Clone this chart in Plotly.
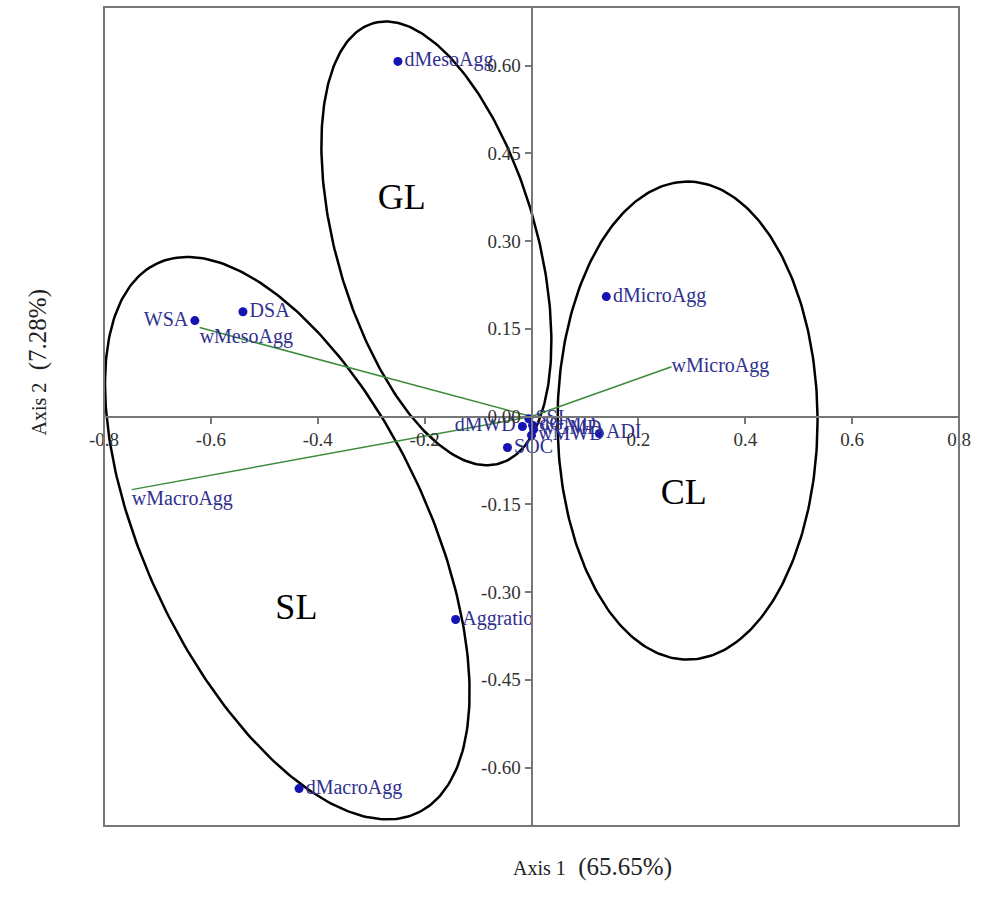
import numpy as np
import plotly.graph_objects as go

# ---- data ----
point_labels = ["dMesoAgg", "dMicroAgg", "WSA", "DSA", "Aggratio", "dMacroAgg",
                "ADI", "SOC", "dMWD", "SSI", "dGMD", "wGMD", "wMWD"]
point_x = [-0.250, 0.140, -0.630, -0.540, -0.142, -0.435,
           0.127, -0.045, -0.017, -0.005, 0.002, 0.004, 0.000]
point_y = [0.607, 0.205, 0.164, 0.179, -0.347, -0.636,
           -0.029, -0.053, -0.017, -0.004, -0.015, -0.022, -0.032]
point_pos = ["middle right", "middle right", "middle left", "middle right", "middle right",
             "middle right", "middle right", "middle right", "middle left", "middle right",
             "middle right", "middle right", "middle right"]

vec_labels = ["wMesoAgg", "wMicroAgg", "wMacroAgg"]
vec_x = [-0.621, 0.262, -0.748]
vec_y = [0.152, 0.085, -0.125]
vec_pos = ["bottom right", "middle right", "bottom right"]

group_names = ["GL", "SL", "CL"]
group_cx = [-0.178, -0.457, 0.292]
group_cy = [0.296, -0.208, -0.007]
group_a = [229, 304, 239]      # semi-major, in screen pixels
group_b = [100, 141, 130]      # semi-minor, in screen pixels
group_angle = [106, 115.4, 90]  # degrees
group_label_x = [-0.243, -0.440, 0.285]
group_label_y = [0.370, -0.330, -0.135]

x_ticks = [-0.8, -0.6, -0.4, -0.2, 0.2, 0.4, 0.6, 0.8]
y_ticks = [-0.60, -0.45, -0.30, -0.15, 0.00, 0.15, 0.30, 0.45, 0.60]
x_range = [-0.8, 0.8]
y_range = [-0.7, 0.7]

W, H = 984, 899
ML, MR, MT, MB = 104, 25, 7, 73
px_per_x = (W - ML - MR) / (x_range[1] - x_range[0])
px_per_y = (H - MT - MB) / (y_range[1] - y_range[0])

SERIF = "Liberation Serif"
LABEL_COLOR = "#30308f"
fig = go.Figure()

# ellipses
t = np.linspace(0, 2 * np.pi, 300)
for cx, cy, a, b, ang in zip(group_cx, group_cy, group_a, group_b, group_angle):
    th = np.deg2rad(ang)
    dx = a * np.cos(t) * np.cos(th) - b * np.sin(t) * np.sin(th)
    dy = a * np.cos(t) * np.sin(th) + b * np.sin(t) * np.cos(th)
    fig.add_trace(go.Scatter(x=cx + dx / px_per_x, y=cy + dy / px_per_y, mode="lines",
                             line=dict(color="black", width=2.5), hoverinfo="skip",
                             showlegend=False))

# vectors
for vx, vy in zip(vec_x, vec_y):
    fig.add_trace(go.Scatter(x=[0, vx], y=[0, vy], mode="lines",
                             line=dict(color="#3c8c3c", width=1.5), showlegend=False))
fig.add_trace(go.Scatter(x=vec_x, y=vec_y, mode="text", text=vec_labels,
                         textposition=vec_pos,
                         textfont=dict(family=SERIF, size=20, color=LABEL_COLOR),
                         showlegend=False))

# points
fig.add_trace(go.Scatter(x=point_x, y=point_y, mode="markers+text", text=point_labels,
                         textposition=point_pos,
                         marker=dict(color="#1414b4", size=9),
                         textfont=dict(family=SERIF, size=20, color=LABEL_COLOR),
                         showlegend=False))

# group names
fig.add_trace(go.Scatter(x=group_label_x, y=group_label_y, mode="text", text=group_names,
                         textfont=dict(family=SERIF, size=36, color="black"),
                         showlegend=False))

fig.update_layout(
    width=W, height=H,
    margin=dict(l=ML, r=MR, t=MT, b=MB),
    paper_bgcolor="white", plot_bgcolor="white",
    xaxis=dict(range=x_range, anchor="free", position=0.5, showgrid=False, zeroline=False,
               showline=True, linecolor="#777777", linewidth=2,
               ticks="outside", ticklen=6, tickcolor="#777777", tickwidth=2,
               tickvals=x_ticks, ticktext=[f"{v:.1f}" for v in x_ticks],
               tickfont=dict(family=SERIF, size=19, color="#333333")),
    yaxis=dict(range=y_range, anchor="free", position=0.5, showgrid=False, zeroline=False,
               showline=True, linecolor="#777777", linewidth=2,
               ticks="outside", ticklen=6, tickcolor="#777777", tickwidth=2,
               tickvals=y_ticks, ticktext=[f"{v:.2f}" for v in y_ticks],
               tickfont=dict(family=SERIF, size=19, color="#333333")),
    shapes=[dict(type="rect", xref="paper", yref="paper", x0=0, y0=0, x1=1, y1=1,
                 line=dict(color="#777777", width=2))],
    annotations=[
        dict(text="<span style='font-size:20px'>Axis 1</span>  (65.65%)",
             xref="paper", yref="paper", x=0.571, y=-0.07,
             showarrow=False, font=dict(family=SERIF, size=25, color="#222222")),
        dict(text="<span style='font-size:20px'>Axis 2</span>  (7.28%)",
             xref="paper", yref="paper", x=-0.096, y=0.567,
             showarrow=False, textangle=-90, font=dict(family=SERIF, size=25, color="#222222")),
    ],
)

fig.write_html("out.html")
